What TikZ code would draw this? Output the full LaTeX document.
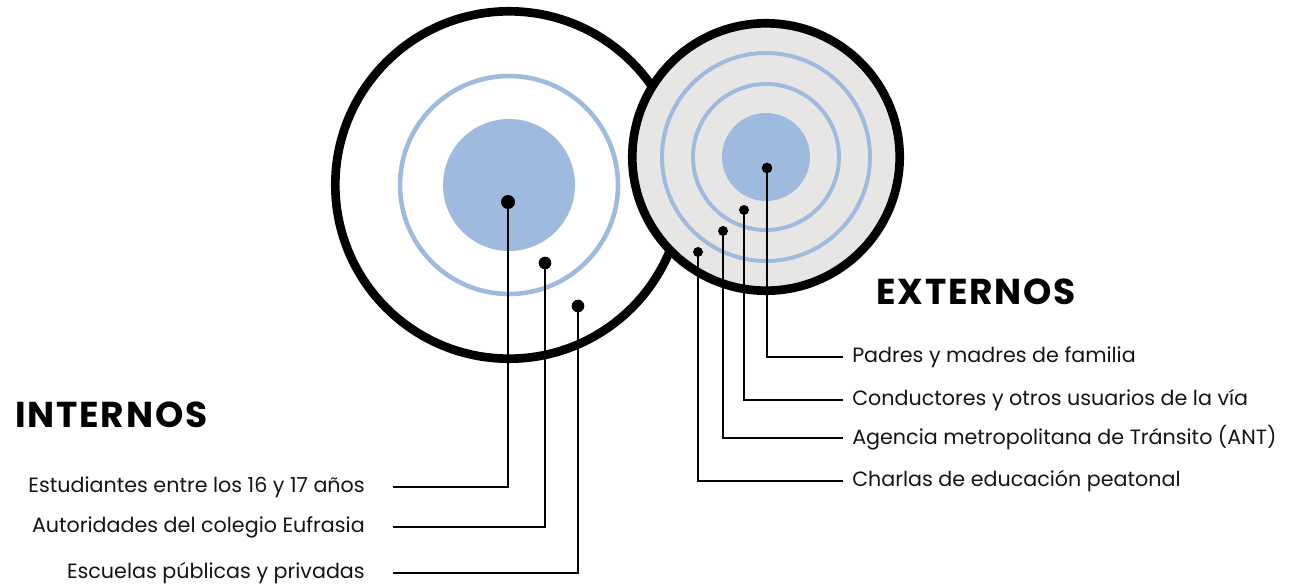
\documentclass[tikz,border=0pt]{standalone}
\usepackage{fontspec}
\setmainfont{Poppins}
\definecolor{ringblue}{HTML}{9EBADF}
\definecolor{discgray}{HTML}{E8E6E5}
\begin{document}
\begin{tikzpicture}[x=0.75pt,y=-0.75pt,
  bigring/.style={draw=black,line width=6.5pt},
  bluering/.style={draw=ringblue,line width=3.4pt},
  dot/.style={circle,fill=black,inner sep=0pt,minimum size=#1},
  conn/.style={draw=black,line width=2.1pt},
  head/.style={font=\fontsize{27}{30}\selectfont\bfseries\addfontfeatures{LetterSpace=5},inner sep=0pt},
  lab/.style={font=\fontsize{15.5}{18}\selectfont,inner sep=0pt,text=black!92}]
\useasboundingbox (0,0) rectangle (1292,588);
% left circle
\coordinate (lc) at (509,185);
\draw[bigring,fill=white] (lc) circle (173.7*0.75pt);
\draw[bluering] (lc) circle (109*0.75pt);
\fill[ringblue] (lc) circle (66*0.75pt);
% right circle
\coordinate (rc) at (766,157);
\draw[bigring,fill=discgray] (rc) circle (133.7*0.75pt);
\draw[bluering,line width=3pt] (rc) circle (104*0.75pt);
\draw[bluering,line width=3pt] (rc) circle (73*0.75pt);
\fill[ringblue] (rc) circle (44*0.75pt);
% headings
\node[head,anchor=west] (int) at (15,415) {INTERNOS};
\node[head,anchor=west] (ext) at (876,292) {EXTERNOS};
% left labels
\node[lab,anchor=east] (l1) at (365,487) {Estudiantes entre los 16 y 17 años};
\node[lab,anchor=east] (l2) at (365,527) {Autoridades del colegio Eufrasia};
\node[lab,anchor=east] (l3) at (365,573) {Escuelas públicas y privadas};
\coordinate (le1) at (393,487);
\coordinate (le2) at (393,527);
\coordinate (le3) at (393,573);
% right labels
\node[lab,anchor=west] (r1) at (852,357) {Padres y madres de familia};
\node[lab,anchor=west] (r2) at (852,400) {Conductores y otros usuarios de la vía};
\node[lab,anchor=west] (r3) at (852,438) {Agencia metropolitana de Tránsito (ANT)};
\node[lab,anchor=west] (r4) at (852,481) {Charlas de educación peatonal};
\coordinate (re1) at (843,357);
\coordinate (re2) at (843,400);
\coordinate (re3) at (843,438);
\coordinate (re4) at (843,481);
% dots
\node[dot=10.5pt] (ld1) at (508,202) {};
\node[dot=9.5pt] (ld2) at (545,263) {};
\node[dot=9.5pt] (ld3) at (578,306) {};
\node[dot=8pt] (rd1) at (767,168) {};
\node[dot=7.5pt] (rd2) at (744,210) {};
\node[dot=7.5pt] (rd3) at (723,231) {};
\node[dot=7.5pt] (rd4) at (698,252) {};
% connectors
\draw[conn] (ld1.center) |- (le1);
\draw[conn] (ld2.center) |- (le2);
\draw[conn] (ld3.center) |- (le3);
\draw[conn] (rd1.center) |- (re1);
\draw[conn] (rd2.center) |- (re2);
\draw[conn] (rd3.center) |- (re3);
\draw[conn] (rd4.center) |- (re4);
\end{tikzpicture}
\end{document}
